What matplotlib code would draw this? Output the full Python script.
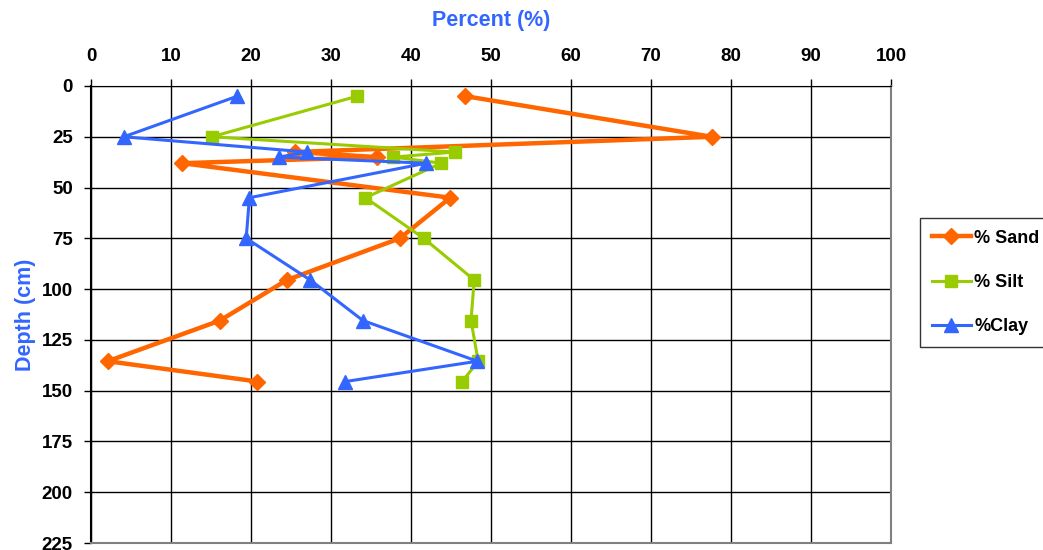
import matplotlib
matplotlib.use("Agg")
import matplotlib.pyplot as plt

plt.rcParams['font.family'] = ['Liberation Sans', 'DejaVu Sans']

depth = [5, 25, 32.5, 35, 38, 55, 75, 95.5, 115.5, 135.5, 145.5]
sand = [46.8, 77.6, 25.5, 35.8, 11.4, 44.9, 38.6, 24.5, 16.1, 2.1, 20.8]
silt = [33.3, 15.1, 45.5, 37.8, 43.8, 34.3, 41.6, 47.9, 47.5, 48.4, 46.4]
clay = [18.3, 4.1, 27.0, 23.5, 41.9, 19.8, 19.4, 27.4, 34.0, 48.3, 31.8]
xticks = list(range(0, 101, 10))
yticks = list(range(0, 226, 25))

fig = plt.figure(figsize=(10.43, 5.5), dpi=100)
ax = fig.add_axes([91/1043, 1 - 543/550, 800/1043, 457/550])

ax.plot(sand, depth, color='#FF6600', lw=3.2, marker='D', ms=8, label='% Sand', zorder=3)
ax.plot(silt, depth, color='#99CC00', lw=2.2, marker='s', ms=9, label='% Silt', zorder=3)
ax.plot(clay, depth, color='#3366FF', lw=2.2, marker='^', ms=10, label='%Clay', zorder=3)

ax.set_xlim(0, 100)
ax.set_ylim(225, 0)
ax.set_xticks(xticks)
ax.set_yticks(yticks)
ax.xaxis.tick_top()
ax.xaxis.set_label_position('top')
ax.grid(True, color='black', lw=1.0)
ax.set_axisbelow(True)
ax.tick_params(axis='both', labelsize=13.5, length=5, width=1, direction='out')
ax.tick_params(axis='x', pad=10)
ax.tick_params(axis='y', pad=8)
for lab in ax.get_xticklabels() + ax.get_yticklabels():
    lab.set_fontweight('bold')
ax.spines['top'].set_color('black')
ax.spines['left'].set_color('black')
ax.spines['left'].set_linewidth(1.5)
ax.spines['right'].set_color('#808080')
ax.spines['bottom'].set_color('#808080')
ax.spines['right'].set_linewidth(1.5)
ax.spines['bottom'].set_linewidth(1.5)

ax.set_xlabel('Percent (%)', color='#3366FF', fontsize=15.5, fontweight='bold', labelpad=16)
ax.set_ylabel('Depth (cm)', color='#3366FF', fontsize=15.5, fontweight='bold', labelpad=4)

leg = fig.legend(loc='upper left', bbox_to_anchor=(920/1043, 1 - 218/550),
                 borderaxespad=0, frameon=True, fancybox=False, edgecolor='black',
                 handlelength=2.15, labelspacing=1.5, borderpad=0.65, handletextpad=0.2,
                 prop={'weight': 'bold', 'size': 13})
leg.get_frame().set_linewidth(1.0)

fig.savefig('out.png', dpi=100)
